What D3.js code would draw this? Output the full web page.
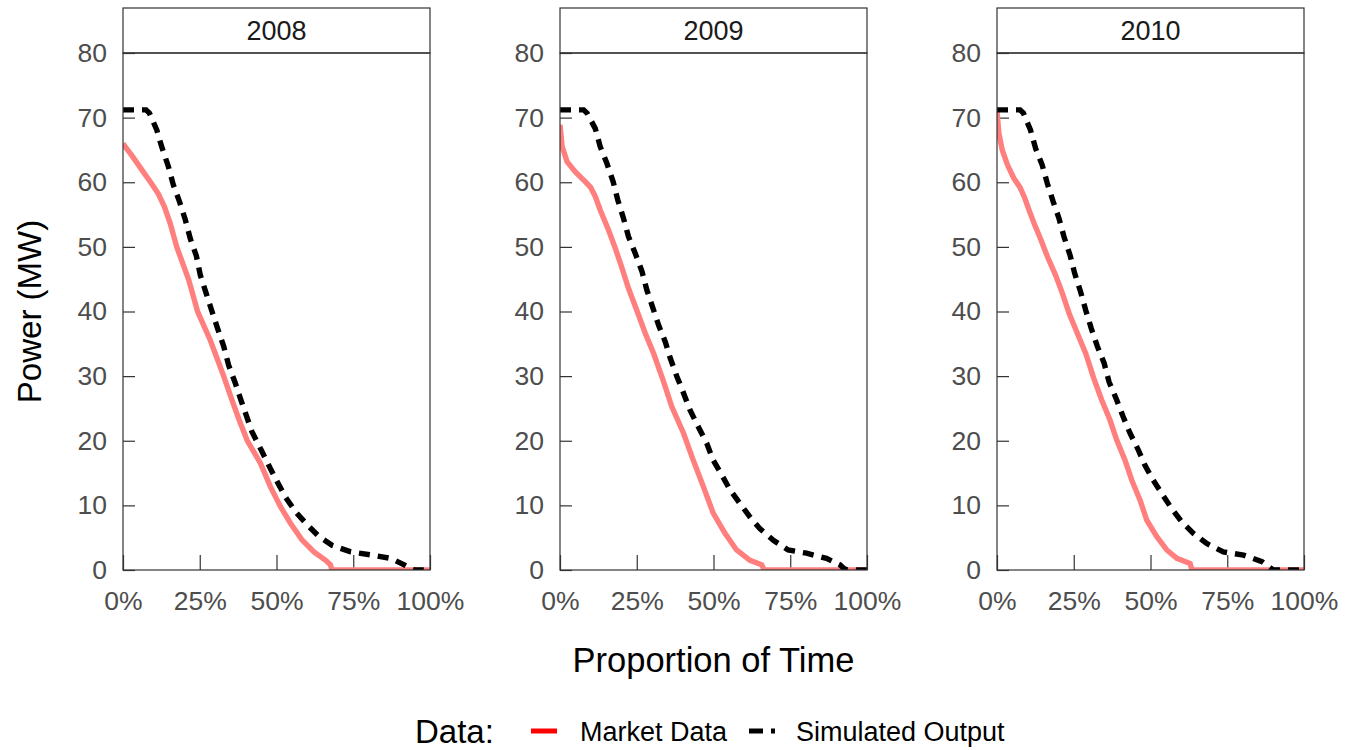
<!DOCTYPE html>
<html lang="en">
<head>
    <meta charset="utf-8">
    <script src="https://d3js.org/d3.v7.min.js"></script>
    <title>Power duration curves</title>
    <style>
        body { margin: 0; background: #fff; }
        svg text { font-family: "Liberation Sans", Arial, sans-serif; }
    </style>
</head>
<body>
    <svg id="chart"></svg>
    <script>
        // panel names, ticks
        const years = ["2008", "2009", "2010"];
        const xTicks = [0, 0.25, 0.5, 0.75, 1];
        const yTicks = [0, 10, 20, 30, 40, 50, 60, 70, 80];
        const seriesNames = ["Market Data", "Simulated Output"];

        // [proportion of time, power MW]
        const market2008 = [[0,66.0],[0.007,65.5],[0.028,64.2],[0.066,61.6],[0.09,60],[0.115,58.2],[0.135,56.2],[0.154,53.6],[0.175,50],[0.214,44.9],[0.243,40],[0.284,35.6],[0.328,30],[0.355,26.3],[0.38,23],[0.405,20],[0.448,16.5],[0.48,12.9],[0.513,9.8],[0.546,7.2],[0.584,4.6],[0.622,2.8],[0.66,1.5],[0.676,0.8],[0.68,0],[1,0]];
        const simulated2008 = [[0,71.2],[0.075,71.2],[0.086,70.7],[0.11,68.1],[0.126,65.5],[0.148,62.4],[0.164,59.6],[0.184,57.0],[0.203,54.2],[0.219,51.3],[0.239,48.6],[0.252,45.6],[0.271,42.8],[0.29,40.0],[0.308,37.4],[0.328,34.6],[0.344,31.7],[0.366,28.9],[0.382,26.6],[0.42,21.4],[0.453,18.3],[0.48,15.7],[0.502,13.7],[0.529,11.3],[0.562,9.0],[0.60,7.0],[0.638,5.2],[0.682,3.8],[0.742,2.8],[0.813,2.3],[0.872,1.8],[0.916,0.8],[0.938,0.2],[0.95,0],[1,0]];

        const market2009 = [[0,68.9],[0.007,65.5],[0.023,63.2],[0.05,61.6],[0.082,60.1],[0.1,59.2],[0.115,57.8],[0.131,55.7],[0.158,52.6],[0.18,49.8],[0.202,46.7],[0.223,43.6],[0.25,40.2],[0.278,36.6],[0.305,33.5],[0.332,29.9],[0.364,25.3],[0.402,21.2],[0.434,17.0],[0.467,12.9],[0.499,8.8],[0.537,5.7],[0.575,3.1],[0.619,1.5],[0.657,0.8],[0.665,0],[1,0]];
        const simulated2009 = [[0,71.2],[0.077,71.2],[0.088,70.7],[0.115,68.3],[0.131,65.5],[0.153,62.9],[0.173,60.1],[0.188,57.3],[0.207,54.4],[0.223,51.6],[0.245,49.0],[0.267,46.2],[0.283,43.3],[0.303,40.5],[0.321,37.9],[0.343,35.3],[0.359,32.8],[0.381,29.9],[0.395,28.3],[0.423,24.8],[0.45,22.2],[0.478,19.6],[0.499,17.0],[0.527,14.7],[0.554,12.4],[0.586,10.3],[0.619,8.2],[0.651,6.4],[0.695,4.6],[0.743,3.1],[0.803,2.6],[0.868,1.8],[0.912,0.8],[0.923,0.3],[0.935,0],[1,0]];

        const market2010 = [[0,71],[0.006,67.6],[0.017,65.0],[0.034,62.7],[0.055,60.6],[0.075,59.2],[0.09,57.6],[0.105,55.6],[0.121,53.6],[0.143,51.1],[0.164,48.5],[0.191,45.6],[0.213,42.8],[0.235,39.7],[0.262,36.6],[0.289,33.5],[0.315,29.7],[0.341,26.3],[0.368,23.2],[0.39,20.1],[0.417,17.0],[0.439,13.9],[0.466,10.8],[0.488,7.7],[0.52,5.2],[0.553,3.1],[0.586,1.8],[0.629,1.0],[0.635,0],[1,0]];
        const simulated2010 = [[0,71.2],[0.075,71.2],[0.086,70.7],[0.109,68.1],[0.126,65.2],[0.147,62.7],[0.164,59.8],[0.183,57.0],[0.202,54.4],[0.218,51.6],[0.238,48.7],[0.253,45.9],[0.272,43.1],[0.289,40.2],[0.307,37.4],[0.327,34.6],[0.349,32.0],[0.365,29.1],[0.39,26.3],[0.411,23.7],[0.433,21.2],[0.46,18.6],[0.482,16.2],[0.509,13.9],[0.536,11.9],[0.569,9.5],[0.601,7.5],[0.639,5.7],[0.683,4.1],[0.737,2.8],[0.803,2.3],[0.863,1.3],[0.885,0.5],[0.9,0],[1,0]];

        const marketByYear = [market2008, market2009, market2010];
        const simulatedByYear = [simulated2008, simulated2009, simulated2010];

        const W = 1356, H = 750;
        const panelLeft = 123, panelW = 307, panelGap = 130;
        const stripTop = 8, panelTop = 53, panelBottom = 570;
        const border = "#333333";
        const tickGrey = "#4d4d4d";

        const svg = d3.select("#chart").attr("width", W).attr("height", H);

        const px = d3.scaleBand().domain(years)
                     .range([panelLeft, panelLeft + 3 * panelW + 2 * panelGap])
                     .paddingInner(panelGap / (panelW + panelGap));
        const x = d3.scaleLinear().domain([0, 1]).range([0, panelW]);
        const y = d3.scaleLinear().domain([0, 80]).range([panelBottom, panelTop]);

        const line = d3.line().x(d => x(d[0])).y(d => y(d[1]));

        const panel = svg.selectAll("g.panel")
            .data(years)
            .join("g")
            .attr("class", "panel")
            .attr("transform", d => `translate(${px(d)},0)`);

        panel.append("clipPath")
             .attr("id", (d, i) => "clip" + i)
             .append("rect")
             .attr("x", 0).attr("y", panelTop)
             .attr("width", panelW).attr("height", panelBottom - panelTop);

        // strip
        panel.append("rect")
             .attr("x", 0).attr("y", stripTop)
             .attr("width", panelW).attr("height", panelTop - stripTop)
             .attr("fill", "#fff").attr("stroke", border).attr("stroke-width", 1.2);
        panel.append("text")
             .attr("x", panelW / 2).attr("y", (stripTop + panelTop) / 2)
             .attr("dy", "0.36em")
             .attr("text-anchor", "middle")
             .attr("font-size", 27).attr("fill", "#1a1a1a")
             .text(d => d);

        // inward ticks
        panel.each(function(d, i) {
            const g = d3.select(this);
            const yAxis = g.append("g")
                .call(d3.axisLeft(y).tickValues(yTicks).tickSize(-12).tickPadding(16));
            const xAxis = g.append("g")
                .attr("transform", `translate(0,${panelBottom})`)
                .call(d3.axisBottom(x).tickValues(xTicks).tickSize(-15).tickPadding(30)
                      .tickFormat(d3.format(".0%")));
            [yAxis, xAxis].forEach(a => {
                a.select(".domain").remove();
                a.selectAll(".tick line").attr("stroke", border).attr("stroke-width", 1.2);
                a.selectAll(".tick text").attr("fill", tickGrey).attr("font-size", 26.5)
                 .style("font-family", "'Liberation Sans', Arial, sans-serif");
            });
            xAxis.selectAll(".tick text").attr("dy", "0.36em");

            const lines = g.append("g").attr("clip-path", `url(#clip${i})`);
            lines.append("path")
                 .datum(marketByYear[i])
                 .attr("d", line)
                 .attr("fill", "none")
                 .attr("stroke", "#ff7f7f")
                 .attr("stroke-width", 5.4);
            lines.append("path")
                 .datum(simulatedByYear[i])
                 .attr("d", line)
                 .attr("fill", "none")
                 .attr("stroke", "#000")
                 .attr("stroke-width", 5.4)
                 .attr("stroke-dasharray", "11,8");
        });

        // panel frame on top
        panel.append("rect")
             .attr("x", 0).attr("y", panelTop)
             .attr("width", panelW).attr("height", panelBottom - panelTop)
             .attr("fill", "none").attr("stroke", border).attr("stroke-width", 1.2);

        // axis titles
        svg.append("text")
           .attr("x", panelLeft + (3 * panelW + 2 * panelGap) / 2).attr("y", 672)
           .attr("text-anchor", "middle").attr("font-size", 34.5)
           .text("Proportion of Time");
        svg.append("text")
           .attr("transform", `translate(41,${(panelTop + panelBottom) / 2}) rotate(-90)`)
           .attr("text-anchor", "middle").attr("font-size", 33)
           .text("Power (MW)");

        // legend
        const legend = svg.append("g").attr("transform", "translate(0,731)");
        legend.append("text").attr("x", 415).attr("dy", "0.36em")
              .attr("font-size", 33).text("Data:");
        const keyX = [531, 749];
        const textX = [580, 796];
        legend.selectAll("line.key")
              .data(seriesNames)
              .join("line")
              .attr("class", "key")
              .attr("x1", (d, i) => keyX[i]).attr("x2", (d, i) => keyX[i] + 26)
              .attr("y1", 0).attr("y2", 0)
              .attr("stroke", (d, i) => i === 0 ? "#ff0000" : "#000")
              .attr("stroke-width", 5)
              .attr("stroke-dasharray", (d, i) => i === 0 ? null : "14,8");
        legend.selectAll("text.lab")
              .data(seriesNames)
              .join("text")
              .attr("class", "lab")
              .attr("x", (d, i) => textX[i]).attr("dy", "0.36em")
              .attr("font-size", 27)
              .text(d => d);
    </script>
</body>
</html>
